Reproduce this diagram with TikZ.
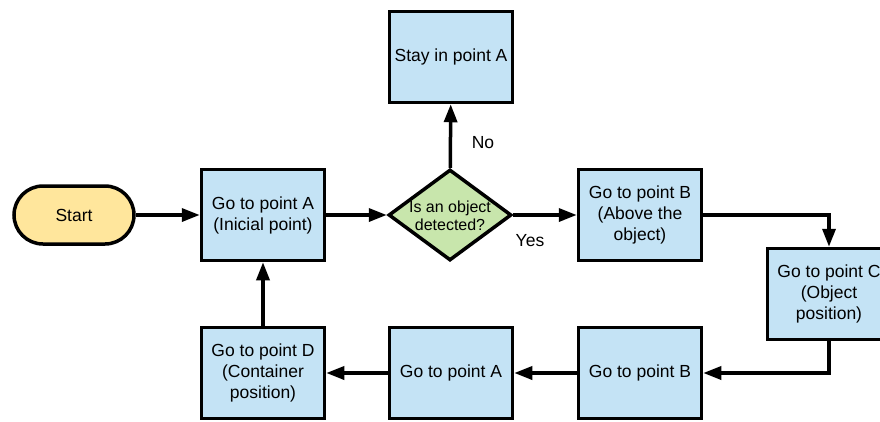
\documentclass[tikz,border=0pt]{standalone}
\usepackage{fontspec}
\setmainfont{Liberation Sans}
\usetikzlibrary{arrows.meta, shapes.geometric}

\definecolor{boxblue}{RGB}{196,227,245}
\definecolor{startyellow}{RGB}{255,230,156}
\definecolor{decgreen}{RGB}{200,230,172}

\begin{document}
\begin{tikzpicture}[x=1pt, y=-1pt,
    box/.style={draw, rectangle, line width=3.5pt, align=center, minimum width=123pt, minimum height=91pt, fill=boxblue, font=\fontsize{17.5}{21}\selectfont},
    term/.style={draw, rectangle, line width=3.5pt, rounded corners=29pt, minimum width=120pt, minimum height=58pt, fill=startyellow, font=\fontsize{17.5}{21}\selectfont},
    dec/.style={draw, diamond, line width=3.5pt, inner sep=0pt, minimum width=123pt, minimum height=91pt, fill=decgreen},
    rel/.style={-{Triangle[length=18pt, width=13pt]}, line width=3.5pt},
    lbl/.style={font=\fontsize{17.5}{21}\selectfont}
]
\clip (0,0) rectangle (880,421);

\node[term] (s)  at ( 74, 215) {Start};
\node[box]  (a)  at (263, 215) {Go to point A\\(Inicial point)};
\node[dec]  (d)  at (450, 215) {};
\node[align=center, font=\fontsize{16}{18.5}\selectfont] (dt) at (450, 216) {Is an object\\detected?};
\node[box]  (st) at (451,  57) {Stay in point A};
\node[box]  (b)  at (640, 215) {Go to point B\\(Above the\\object)};
\node[box]  (c)  at (829, 294) {Go to point C\\(Object\\position)};
\node[box]  (b2) at (640, 373) {Go to point B};
\node[box]  (a2) at (451, 373) {Go to point A};
\node[box]  (dd) at (263, 373) {Go to point D\\(Container\\position)};

\node[lbl] (no)  at (483, 143) {No};
\node[lbl] (yes) at (530, 241) {Yes};

\draw[rel] (s) -- (a);
\draw[rel] (a) -- (d);
\draw[rel] (d) -- (b);
\draw[rel] (d) -- (st);
\draw[rel] (b) -| (c);
\draw[rel] (c) |- (b2);
\draw[rel] (b2) -- (a2);
\draw[rel] (a2) -- (dd);
\draw[rel] (dd) -- (a);
\end{tikzpicture}
\end{document}
